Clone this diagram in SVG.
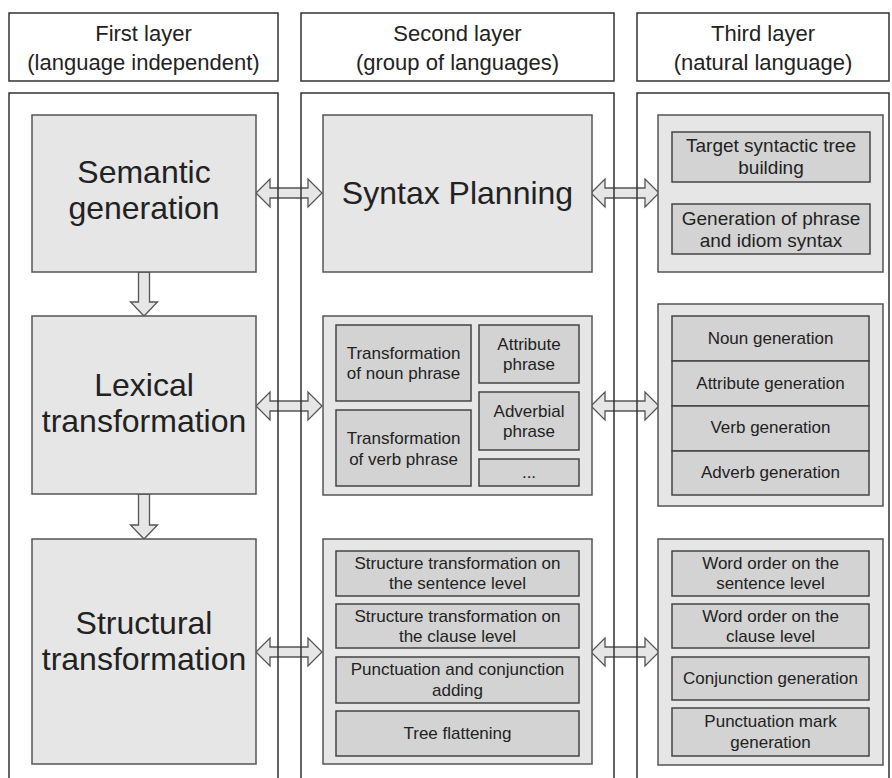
<svg xmlns="http://www.w3.org/2000/svg" width="892" height="778" viewBox="0 0 892 778">
  <style>
    .hdr { fill: #ffffff; stroke: #333333; stroke-width: 1.5; }
    .col { fill: none; stroke: #333333; stroke-width: 1.5; }
    .outer { fill: #e6e6e6; stroke: #555555; stroke-width: 1.5; }
    .inner { fill: #d3d3d3; stroke: #444444; stroke-width: 1.5; }
    .arrow { fill: #e6e6e6; stroke: #555555; stroke-width: 1.3; stroke-linejoin: miter; }
    text { font-family: "Liberation Sans", Arial, sans-serif; fill: #222222; text-anchor: middle; }
    .th { font-size: 22px; }
    .big { font-size: 32px; }
    .mid { font-size: 19px; }
    .sm { font-size: 17px; }
  </style>

  <rect width="892" height="778" fill="#ffffff"/>

  <!-- column headers -->
  <g id="header-first">
    <rect class="hdr" x="9" y="13" width="269" height="68"/>
    <text class="th" x="143.5" y="41">First layer</text>
    <text class="th" x="143.5" y="70">(language independent)</text>
  </g>
  <g id="header-second">
    <rect class="hdr" x="301" y="13" width="313" height="68"/>
    <text class="th" x="457.5" y="41">Second layer</text>
    <text class="th" x="457.5" y="70">(group of languages)</text>
  </g>
  <g id="header-third">
    <rect class="hdr" x="637" y="13" width="252" height="68"/>
    <text class="th" x="763" y="41">Third layer</text>
    <text class="th" x="763" y="70">(natural language)</text>
  </g>

  <!-- connectors (drawn under the column frames) -->
  <g id="connectors">
    <polygon class="arrow" points="256,193 270,179 270,188 308,188 308,179 322,193 308,207 308,198 270,198 270,207"/>
    <polygon class="arrow" points="591,193 605,179 605,188 645,188 645,179 659,193 645,207 645,198 605,198 605,207"/>
    <polygon class="arrow" points="256,406 270,392 270,401 308,401 308,392 322,406 308,420 308,411 270,411 270,420"/>
    <polygon class="arrow" points="591,406 605,392 605,401 645,401 645,392 659,406 645,420 645,411 605,411 605,420"/>
    <polygon class="arrow" points="256,652 270,638 270,647 308,647 308,638 322,652 308,666 308,657 270,657 270,666"/>
    <polygon class="arrow" points="591,652 605,638 605,647 645,647 645,638 659,652 645,666 645,657 605,657 605,666"/>
    <polygon class="arrow" points="138.5,272 149.5,272 149.5,302 157.5,302 144,316 130.5,302 138.5,302"/>
    <polygon class="arrow" points="138.5,494 149.5,494 149.5,525 157.5,525 144,539 130.5,525 138.5,525"/>
  </g>

  <!-- column frames, open at the bottom -->
  <g id="columns">
    <path class="col" d="M9,780 V93 H278 V780"/>
    <path class="col" d="M301,780 V93 H614 V780"/>
    <path class="col" d="M637,780 V93 H889 V780"/>
  </g>

  <!-- first layer -->
  <g id="semantic-generation">
    <rect class="outer" x="32" y="115" width="224" height="157"/>
    <text class="big" x="144" y="183">Semantic</text>
    <text class="big" x="144" y="219">generation</text>
  </g>
  <g id="lexical-transformation">
    <rect class="outer" x="32" y="316" width="224" height="178"/>
    <text class="big" x="144" y="396">Lexical</text>
    <text class="big" x="144" y="432">transformation</text>
  </g>
  <g id="structural-transformation">
    <rect class="outer" x="32" y="539" width="224" height="225"/>
    <text class="big" x="144" y="634">Structural</text>
    <text class="big" x="144" y="670">transformation</text>
  </g>

  <!-- second layer -->
  <g id="syntax-planning">
    <rect class="outer" x="323" y="115" width="269" height="157"/>
    <text class="big" x="457.5" y="204">Syntax Planning</text>
  </g>
  <g id="phrase-transformation">
    <rect class="outer" x="323" y="316" width="269" height="179"/>
    <g id="noun-phrase">
      <rect class="inner" x="336" y="325" width="135" height="76"/>
      <text class="sm" x="403.5" y="359">Transformation</text>
      <text class="sm" x="403.5" y="379">of noun phrase</text>
    </g>
    <g id="verb-phrase">
      <rect class="inner" x="336" y="410" width="135" height="76"/>
      <text class="sm" x="403.5" y="444">Transformation</text>
      <text class="sm" x="403.5" y="465">of verb phrase</text>
    </g>
    <g id="attribute-phrase">
      <rect class="inner" x="479" y="325" width="100" height="58"/>
      <text class="sm" x="529" y="350">Attribute</text>
      <text class="sm" x="529" y="370">phrase</text>
    </g>
    <g id="adverbial-phrase">
      <rect class="inner" x="479" y="392" width="100" height="58"/>
      <text class="sm" x="529" y="417">Adverbial</text>
      <text class="sm" x="529" y="437">phrase</text>
    </g>
    <g id="more-phrases">
      <rect class="inner" x="479" y="459" width="100" height="27"/>
      <text class="sm" x="529" y="478">...</text>
    </g>
  </g>
  <g id="structure-transformation">
    <rect class="outer" x="323" y="539" width="269" height="225"/>
    <g id="sentence-level">
      <rect class="inner" x="336" y="551" width="243" height="45"/>
      <text class="sm" x="457.5" y="569">Structure transformation on</text>
      <text class="sm" x="457.5" y="589">the sentence level</text>
    </g>
    <g id="clause-level">
      <rect class="inner" x="336" y="604" width="243" height="44"/>
      <text class="sm" x="457.5" y="622">Structure transformation on</text>
      <text class="sm" x="457.5" y="642">the clause level</text>
    </g>
    <g id="punctuation-adding">
      <rect class="inner" x="336" y="657" width="243" height="46"/>
      <text class="sm" x="457.5" y="675">Punctuation and conjunction</text>
      <text class="sm" x="457.5" y="696">adding</text>
    </g>
    <g id="tree-flattening">
      <rect class="inner" x="336" y="711" width="243" height="45"/>
      <text class="sm" x="457.5" y="739">Tree flattening</text>
    </g>
  </g>

  <!-- third layer -->
  <g id="syntactic-tree">
    <rect class="outer" x="658" y="115" width="225" height="157"/>
    <g id="tree-building">
      <rect class="inner" x="672" y="132" width="198" height="50"/>
      <text class="mid" x="771" y="152">Target syntactic tree</text>
      <text class="mid" x="771" y="174">building</text>
    </g>
    <g id="idiom-syntax">
      <rect class="inner" x="672" y="204" width="198" height="50"/>
      <text class="mid" x="771" y="225">Generation of phrase</text>
      <text class="mid" x="771" y="247">and idiom syntax</text>
    </g>
  </g>
  <g id="word-generation">
    <rect class="outer" x="658" y="304" width="225" height="202"/>
    <g id="noun-generation">
      <rect class="inner" x="672" y="316" width="197" height="45"/>
      <text class="sm" x="770.5" y="344">Noun generation</text>
    </g>
    <g id="attribute-generation">
      <rect class="inner" x="672" y="361" width="197" height="45"/>
      <text class="sm" x="770.5" y="389">Attribute generation</text>
    </g>
    <g id="verb-generation">
      <rect class="inner" x="672" y="406" width="197" height="45"/>
      <text class="sm" x="770.5" y="433">Verb generation</text>
    </g>
    <g id="adverb-generation">
      <rect class="inner" x="672" y="451" width="197" height="44"/>
      <text class="sm" x="770.5" y="478">Adverb generation</text>
    </g>
  </g>
  <g id="word-order">
    <rect class="outer" x="658" y="539" width="225" height="226"/>
    <g id="word-order-sentence">
      <rect class="inner" x="672" y="551" width="197" height="45"/>
      <text class="sm" x="770.5" y="569">Word order on the</text>
      <text class="sm" x="770.5" y="589">sentence level</text>
    </g>
    <g id="word-order-clause">
      <rect class="inner" x="672" y="604" width="197" height="44"/>
      <text class="sm" x="770.5" y="622">Word order on the</text>
      <text class="sm" x="770.5" y="642">clause level</text>
    </g>
    <g id="conjunction-generation">
      <rect class="inner" x="672" y="657" width="197" height="43"/>
      <text class="sm" x="770.5" y="684">Conjunction generation</text>
    </g>
    <g id="punctuation-generation">
      <rect class="inner" x="672" y="708" width="197" height="48"/>
      <text class="sm" x="770.5" y="727">Punctuation mark</text>
      <text class="sm" x="770.5" y="748">generation</text>
    </g>
  </g>
</svg>
